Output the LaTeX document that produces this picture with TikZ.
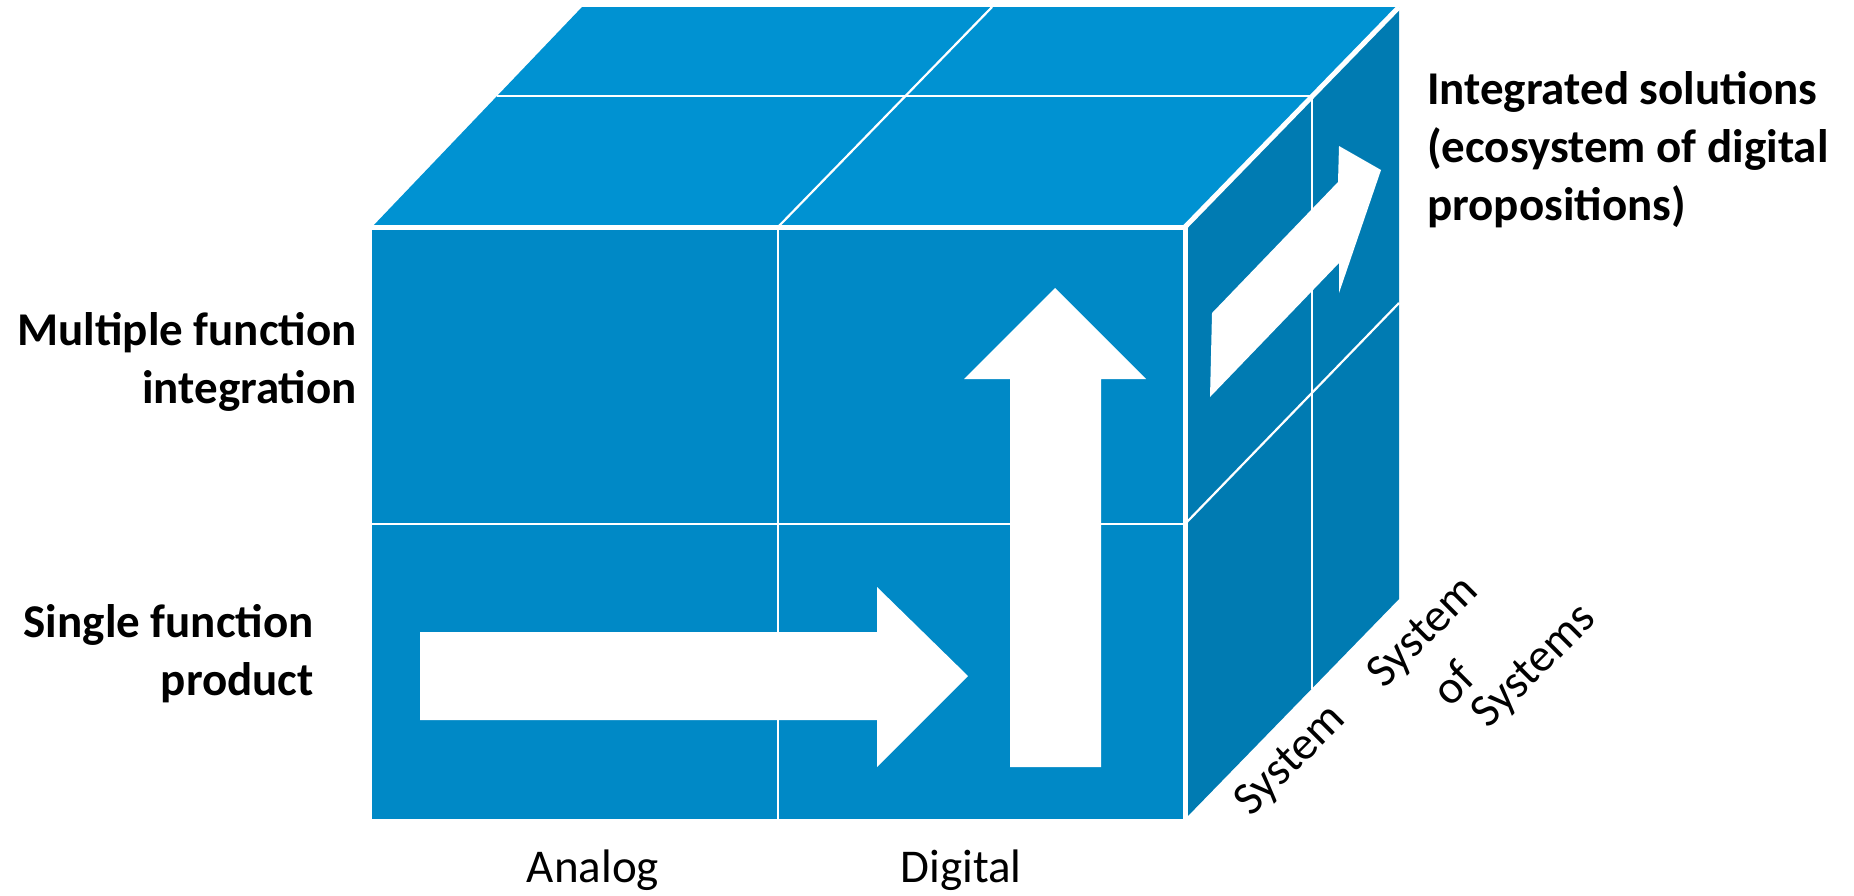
\documentclass[tikz,border=0pt]{standalone}
\usepackage{fontspec}
\setmainfont{Carlito}
\definecolor{topc}{RGB}{0,146,210}
\definecolor{frontc}{RGB}{0,137,198}
\definecolor{sidec}{RGB}{0,123,178}
\begin{document}
\begin{tikzpicture}[x=1pt,y=-1pt,
  divline/.style={white,line width=2.2pt},
  edgeline/.style={white,line width=5pt},
  arrowshape/.style={fill=white,draw=none},
  boldlab/.style={font=\fontsize{47}{58}\selectfont\bfseries,inner sep=0pt},
  plainlab/.style={font=\fontsize{47}{52}\selectfont,inner sep=0pt},
  diaglab/.style={plainlab,rotate=45}]
\useasboundingbox (0,0) rectangle (1854,895);
% faces
\fill[topc] (372,227) -- (582,7) -- (1399,7) -- (1185,227) -- cycle;
\fill[sidec] (1185,227) -- (1399,7) -- (1399,599) -- (1185,819) -- cycle;
\fill[frontc] (372,227) rectangle (1185,819);
% dividers
\draw[divline] (372,524) -- (1185,524);
\draw[divline] (778,227) -- (778,819);
\draw[divline] (497,96) -- (1312,96);
\draw[divline] (778,227) -- (992,7);
\draw[divline] (1312,96) -- (1312,689);
\draw[divline] (1185,524) -- (1399,303);
% cube edges
\draw[edgeline] (372,227) -- (1185,227);
\draw[edgeline] (1185,227) -- (1185,819);
\draw[edgeline] (1185,227) -- (1399,7);
% arrows
\fill[arrowshape] (420,632) -- (877,632) -- (877,587) -- (968,676) -- (877,767) -- (877,720) -- (420,720) -- cycle;
\fill[arrowshape] (1010,767) -- (1010,379) -- (964,379) -- (1055,288) -- (1146,379) -- (1101,379) -- (1101,767) -- cycle;
\fill[arrowshape] (1210,397) -- (1212,313) -- (1338,182) -- (1339,146) -- (1381,170) -- (1339,293) -- (1339,263) -- cycle;
% labels
\node[boldlab,anchor=east,align=right] (multi) at (357,362) {Multiple function\\integration};
\node[boldlab,anchor=east,align=right] (single) at (314,654) {Single function\\product};
\node[boldlab,anchor=west,align=left] (integ) at (1427,150) {Integrated solutions\\(ecosystem of digital\\propositions)};
\node[plainlab] (analog) at (593,870) {Analog};
\node[plainlab] (digital) at (961,870) {Digital};
\node[diaglab] (system) at (1291,761) {System};
\node[diaglab] (sosa) at (1424,633) {System};
\node[diaglab] (sosb) at (1453,683) {of};
\node[diaglab] (sosc) at (1535,667) {Systems};
\end{tikzpicture}
\end{document}
